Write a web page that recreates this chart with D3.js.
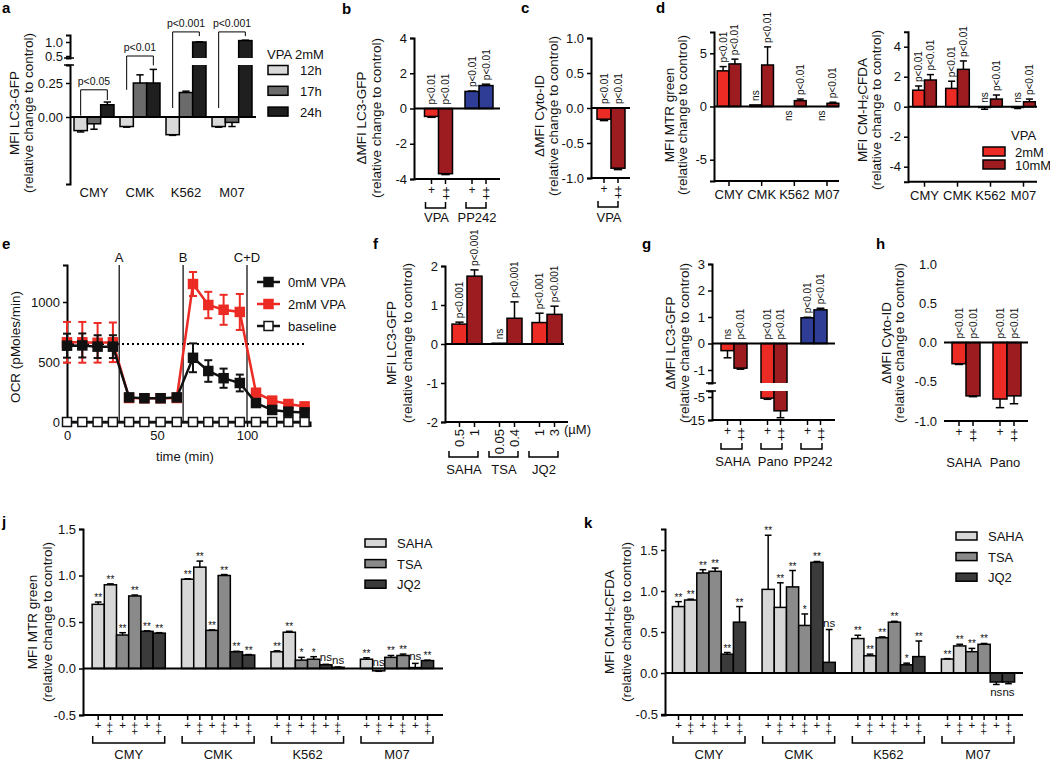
<!DOCTYPE html>
<html><head><meta charset="utf-8">
<script src="https://cdn.jsdelivr.net/npm/d3@7"></script>
<style>body{margin:0;background:#fff}</style>
</head><body>
<svg id="fig" width="1050" height="763"></svg>
<script>
// ================= DATA =================
// panel a
const aCategories = ["CMY","CMK","K562","M07"];
const aSeries = ["12h","17h","24h"];
const a12h = [-0.10, -0.07, -0.13, -0.07];
const a17h = [-0.05, 0.25, 0.18, -0.04];
const a24h = [0.09, 0.25, 1.00, 1.05];
const aErr12h = [0.01, 0.005, 0.005, 0.005];
const aErr17h = [0.04, 0.06, 0.01, 0.03];
const aErr24h = [0.02, 0.10, 0.01, 0.015];
const aPvalues = ["p<0.05","p<0.01","p<0.001","p<0.001"];
const aBracketLeft = [0.01, 0.20, 0.066, 0.066];
const aBracketTop = [0.20, 0.50, 1.36, 1.36];
const aBracketRight = [0.125, 0.38, 1.21, 1.21];
const aTicksLower = [0, 0.25];
const aTicksUpper = [0.5, 1.0];
const aLegendTitle = "VPA 2mM";
// panel b
const bGroups = ["VPA","PP242"];
const bValues = [[-0.45, -3.7], [0.97, 1.3]];
const bErr = [[0.05, 0.05], [0.02, 0.08]];
const bLabels = [["p<0.01","p<0.01"],["p<0.01","p<0.01"]];
const bTicks = [-4, -2, 0, 2, 4];
// panel c
const cGroups = ["VPA"];
const cValues = [[-0.16, -0.86]];
const cErr = [[0.02, 0.02]];
const cLabels = [["p<0.01","p<0.01"]];
const cTicks = [-1, -0.5, 0, 0.5, 1];
// panel d
const dCategories = ["CMY","CMK","K562","M07"];
const dSeries = ["2mM","10mM"];
const d1Values2mM = [3.35, 0.15, 0.0, 0.0];
const d1Err2mM = [0.4, 0, 0, 0];
const d1Values10mM = [4.0, 3.9, 0.55, 0.3];
const d1Err10mM = [0.45, 1.7, 0.15, 0.1];
const d1Labels2mM = ["p<0.01","ns","ns","ns"];
const d1Labels10mM = ["p<0.01","p<0.01","p<0.01","p<0.01"];
const d1Below2mM = [false, false, true, true];
const d1Ticks = [-5, 0, 5];
const d2Values2mM = [1.1, 1.22, -0.05, -0.05];
const d2Err2mM = [0.28, 0.48, 0.12, 0.07];
const d2Values10mM = [1.78, 2.49, 0.51, 0.33];
const d2Err10mM = [0.36, 0.56, 0.27, 0.18];
const d2Labels2mM = ["p<0.01","p<0.01","ns","ns"];
const d2Labels10mM = ["p<0.01","p<0.01","p<0.01","p<0.01"];
const d2Below2mM = [false, false, false, false];
const d2Ticks = [-4, -2, 0, 2, 4];
const dLegendTitle = "VPA";
// panel e
const eTime = [0, 8.5, 17, 25.5, 34.5, 43, 52, 61, 70, 78.5, 87, 96, 105, 114, 123, 132];
const e0mM = [636, 638, 628, 628, 205, 198, 198, 205, 535, 425, 365, 325, 158, 100, 86, 80];
const e0mMErr = [100, 100, 95, 95, 20, 15, 15, 20, 120, 90, 80, 70, 25, 15, 15, 15];
const e2mM = [664, 664, 660, 664, 200, 198, 198, 200, 1150, 975, 935, 917, 244, 178, 150, 130];
const e2mMErr = [170, 170, 165, 165, 15, 15, 15, 15, 100, 110, 125, 150, 20, 15, 15, 15];
const eBaseline = [0,0,0,0,0,0,0,0,0,0,0,0,0,0,0,0];
const eInjectionLabels = ["A","B","C+D"];
const eInjectionTimes = [29, 64.5, 100];
const eReference = 650;
const eYTicks = [0, 500, 1000];
const eXTicks = [0, 50, 100];
const eLegend = ["0mM VPA","2mM VPA","baseline"];
// panel f
const fGroups = ["SAHA","TSA","JQ2"];
const fDoses = [["0.5","1"],["0.05","0.4"],["1","3"]];
const fValues = [[0.51, 1.74], [0.02, 0.66], [0.55, 0.76]];
const fErr = [[0.05, 0.16], [0, 0.42], [0.24, 0.21]];
const fLabels = [["p<0.001","p<0.001"],["ns","p<0.001"],["p<0.001","p<0.001"]];
const fTicks = [-2, -1, 0, 1, 2];
// panel g
const gGroups = ["SAHA","Pano","PP242"];
const gValues = [[-0.27, -0.93], [-5.5, -11], [0.97, 1.27]];
const gErr = [[0.27, 0.04], [0.5, 3], [0.02, 0.06]];
const gLabels = [["ns","p<0.01"],["p<0.01","p<0.01"],["p<0.01","p<0.01"]];
const gTicksUpper = [-1, 0, 1, 2, 3];
const gTicksLower = [-15, -5];
// panel h
const hGroups = ["SAHA","Pano"];
const hValues = [[-0.27, -0.68], [-0.72, -0.68]];
const hErr = [[0.01, 0.01], [0.11, 0.1]];
const hLabels = [["p<0.01","p<0.01"],["p<0.01","p<0.01"]];
const hTicks = [-1, -0.5, 0, 0.5, 1];
// panel j
const jCategories = ["CMY","CMK","K562","M07"];
const jLegend = ["SAHA","TSA","JQ2"];
const jValues = [
  [0.69, 0.90, 0.36, 0.78, 0.40, 0.38],
  [0.96, 1.09, 0.41, 1.00, 0.18, 0.145],
  [0.18, 0.39, 0.09, 0.10, 0.04, 0.013],
  [0.10, -0.025, 0.12, 0.14, 0.01, 0.085]];
const jErr = [
  [0.025, 0.01, 0.025, 0.01, 0.005, 0.005],
  [0.005, 0.065, 0.005, 0.01, 0.005, 0.005],
  [0.01, 0.01, 0.03, 0.027, 0.005, 0.003],
  [0.015, 0.005, 0.02, 0.015, 0.045, 0.005]];
const jStars = [
  ["**","**","**","**","**","**"],
  ["**","**","**","**","**","**"],
  ["**","**","*","*","ns","ns"],
  ["**","ns","**","**","ns","**"]];
const jTicks = [-0.5, 0, 0.5, 1, 1.5];
// panel k
const kValues = [
  [0.81, 0.89, 1.22, 1.24, 0.23, 0.62],
  [1.02, 0.80, 1.05, 0.58, 1.35, 0.13],
  [0.42, 0.21, 0.43, 0.62, 0.10, 0.20],
  [0.17, 0.33, 0.26, 0.35, -0.11, -0.11]];
const kErr = [
  [0.06, 0.01, 0.04, 0.04, 0.02, 0.19],
  [0.66, 0.30, 0.20, 0.14, 0.01, 0.40],
  [0.04, 0.02, 0.01, 0.01, 0.02, 0.19],
  [0.005, 0.02, 0.04, 0.01, 0.03, 0.02]];
const kStars = [
  ["**","**","**","**","**","**"],
  ["**","**","**","*","**","ns"],
  ["**","**","**","**","*","**"],
  ["**","**","**","**","ns","ns"]];
const kStarsBelow = [
  [false,false,false,false,false,false],
  [false,false,false,false,false,false],
  [false,false,false,false,false,false],
  [false,false,false,false,true,true]];
const kTicks = [-0.5, 0, 0.5, 1, 1.5];
const relTitle = "(relative change to control)";

// ================= STYLE =================
const FONT = "'Liberation Sans', Arial, Helvetica, sans-serif";
const RED = "#ec2b24", DRED = "#9d1c20", BLUE = "#2f3d97";
const A_FILLS = ["#d9d9d9", "#6b6b6b", "#1f1f1f"];
const J_FILLS = ["#d7d7d7","#d7d7d7","#8a8a8a","#8a8a8a","#3b3b3b","#3b3b3b"];
const svg = d3.select("#fig");
const fmt0 = v => String(v), fmt1 = v => v.toFixed(1), fmt2 = v => v.toFixed(2);

// ================= HELPERS =================
function extScale(d0, d1, r0, r1, p0, p1) {
  const s = d3.scaleLinear().domain([d0, d1]).range([r0, r1]);
  return d3.scaleLinear().domain([s.invert(p0), s.invert(p1)]).range([p0, p1]);
}
function line(g, x1, y1, x2, y2, w = 2, dash = null, color = "#000") {
  const l = g.append("line").attr("x1", x1).attr("y1", y1).attr("x2", x2).attr("y2", y2)
    .attr("stroke", color).attr("stroke-width", w);
  if (dash) l.attr("stroke-dasharray", dash);
  return l;
}
function text(g, x, y, s, o = {}) {
  const t = g.append("text").attr("font-family", FONT).attr("font-size", o.size || 13)
    .attr("fill", o.fill || "#111").attr("text-anchor", o.anchor || "middle");
  if (o.rotate) {
    t.attr("transform", `translate(${x},${y}) rotate(-90)`).attr("dominant-baseline", "central");
  } else t.attr("x", x).attr("y", y);
  if (o.weight) t.attr("font-weight", o.weight);
  t.text(s);
  return t;
}
// one "+" per condition; a second "+" stacked directly below for the higher dose
function plus(g, xc, yc, double, size = 12, gap = 6.5) {
  if (!double) return text(g, xc, yc + 0.33 * size, "+", { size });
  return g.append("text").attr("font-family", FONT).attr("font-size", size).attr("fill", "#111")
    .attr("text-anchor", "start").attr("dominant-baseline", "central")
    .attr("letter-spacing", gap - 0.584 * size)
    .attr("transform", `translate(${xc},${yc - 0.292 * size}) rotate(90)`).text("++");
}
function rect(g, x, w, yA, yB, fill, sw = 1.5) {
  return g.append("rect").attr("x", x).attr("y", Math.min(yA, yB)).attr("width", w)
    .attr("height", Math.abs(yA - yB)).attr("fill", fill).attr("stroke", "#000").attr("stroke-width", sw);
}
function err(g, xc, yFrom, yTo, cap, w = 1.5, color = "#000") {
  line(g, xc, yFrom, xc, yTo, w, null, color);
  line(g, xc - cap / 2, yTo, xc + cap / 2, yTo, w, null, color);
}
function bracket(g, x0, x1, yTop, yBot, w = 1.5) {
  g.append("path").attr("d", `M${x0},${yTop}V${yBot}H${x1}V${yTop}`)
    .attr("fill", "none").attr("stroke", "#000").attr("stroke-width", w);
}
function leftAxis(g, scale, ticks, x, fmt, showLine = true, showTicks = true) {
  const ax = g.append("g").attr("transform", `translate(${x},0)`)
    .call(d3.axisLeft(scale).tickValues(ticks).tickFormat(fmt).tickSizeOuter(0).tickSize(4).tickPadding(3));
  ax.select(".domain").attr("stroke-width", 2).attr("stroke", showLine ? "#000" : "none");
  ax.selectAll(".tick line").attr("stroke-width", 1.5).attr("stroke", showTicks ? "#000" : "none");
  ax.selectAll("text").attr("font-size", 13).attr("font-family", FONT).attr("fill", "#111");
  return ax;
}
function yTitle(g, x1, x2, yc, l1, l2, sub) {
  if (sub) {
    const t = text(g, x1, yc, "", { rotate: true, size: 13.5 });
    t.append("tspan").text(sub[0]);
    t.append("tspan").text(sub[1]).attr("font-size", 9).attr("dy", 3);
    t.append("tspan").text(sub[2]).attr("dy", -3);
  } else text(g, x1, yc, l1, { rotate: true, size: 13.5 });
  text(g, x2, yc, l2, { rotate: true, size: 13.5 });
}
function letter(g, x, y, s) { text(g, x, y, s, { anchor: "start", weight: "bold", size: 15, fill: "#000" }); }
function pLabel(g, xc, yRef, s, below, size = 10) {
  if (below) text(g, xc, yRef + 4, s, { rotate: true, anchor: "end", size });
  else text(g, xc, yRef - 4, s, { rotate: true, anchor: "start", size });
}

// ================= PANEL a =================
(function () {
  const g = svg.append("g");
  const x = d3.scalePoint().domain(aCategories).range([94, 232]);
  const inner = d3.scaleBand().domain(aSeries).range([-20, 20]);
  const yLo = extScale(0, 0.25, 117, 83, 184, 65);
  const yHi = extScale(0.5, 1.0, 56, 42, 58, 35);
  const cut = yLo.domain()[1];
  const yB = v => (v <= cut ? yLo(v) : yHi(v));
  const vals = [a12h, a17h, a24h], errs = [aErr12h, aErr17h, aErr24h];
  const w = inner.bandwidth();
  aCategories.forEach((c, i) => {
    aSeries.forEach((s, j) => {
      const v = vals[j][i], e = errs[j][i];
      const x0 = x(c) + inner(s), xc = x0 + w / 2;
      rect(g, x0, w, yLo(0), yB(v), A_FILLS[j]);
      if (e > 0) err(g, xc, yB(v), yB(v + Math.sign(v) * e), w * 0.55);
    });
  });
  g.append("rect").attr("x", 60).attr("y", yHi.range()[0]).attr("width", 200)
    .attr("height", yLo.range()[1] - yHi.range()[0]).attr("fill", "#fff");
  line(g, 70, yLo(0), 256, yLo(0));
  leftAxis(g, yLo, aTicksLower, 70, fmt2);
  leftAxis(g, yHi, aTicksUpper, 70, fmt1);
  line(g, 64, yHi.range()[0], 74, yHi.range()[0], 1.5);
  line(g, 64, yLo.range()[1], 74, yLo.range()[1], 1.5);
  aCategories.forEach((c, i) => {
    const xl = x(c) + inner("12h") + w / 2, xr = x(c) + inner("24h") + w / 2;
    g.append("path").attr("d", `M${xl},${yB(aBracketLeft[i])}V${yB(aBracketTop[i])}H${xr}V${yB(aBracketRight[i])}`)
      .attr("fill", "none").attr("stroke", "#000").attr("stroke-width", 1);
    text(g, (xl + xr) / 2, yB(aBracketTop[i]) - 5, aPvalues[i], { size: 10.5 });
    text(g, x(c), 197, c);
  });
  text(g, 267, 59, aLegendTitle, { anchor: "start" });
  aSeries.forEach((s, j) => {
    const yy = 65.5 + j * 20.8;
    g.append("rect").attr("x", 268).attr("y", yy).attr("width", 20).attr("height", 9)
      .attr("fill", A_FILLS[j]).attr("stroke", "#000").attr("stroke-width", 1.5);
    text(g, 300, yy + 9.5, s, { anchor: "start" });
  });
  yTitle(g, 14, 28, 113, "MFI LC3-GFP", relTitle);
  letter(g, 2, 13, "a");
})();

// ============ generic small bar panel (b, c, h) ============
function smallPanel(o) {
  const g = svg.append("g");
  const x = d3.scalePoint().domain(o.groups).range(o.centers);
  if (o.groups.length === 1) x.range([o.centers[0], o.centers[0]]);
  const inner = d3.scaleBand().domain([0, 1]).range([-o.bw, o.bw]);
  const y = o.y, w = inner.bandwidth(), yBot = y.range()[0];
  o.groups.forEach((grp, i) => {
    [0, 1].forEach(j => {
      const v = o.values[i][j], e = o.errs[i][j];
      const x0 = x(grp) + inner(j), xc = x0 + w / 2;
      rect(g, x0, w, y(0), y(v), o.fills[i][j]);
      const yEnd = y(v + Math.sign(v) * e);
      if (e > 0) err(g, xc, y(v), yEnd, w * 0.6);
      pLabel(g, xc, Math.min(y(0), yEnd, y(v)), o.labels[i][j], false);
      line(g, xc, yBot, xc, yBot + 5, 1.5);
      plus(g, xc, yBot + 11, j === 1, 12);
    });
    if (o.brackets) bracket(g, x(grp) - 13, x(grp) + 7, yBot + 23, yBot + 29);
    text(g, x(grp) + o.labelDx, yBot + o.labelDy, grp);
  });
  line(g, o.axisX, y(0), o.xEnd, y(0));
  line(g, o.axisX, yBot, o.xEnd, yBot);
  leftAxis(g, y, o.ticks, o.axisX, o.fmt, o.axisLine !== false, o.axisLine !== false);
  yTitle(g, o.t1, o.t2, o.tc, o.title, relTitle);
  letter(g, o.lx, o.ly, o.letter);
  return g;
}

smallPanel({ groups: bGroups, centers: [438.5, 479], bw: 14, y: d3.scaleLinear().domain([-4, 4]).range([179, 38]),
  values: bValues, errs: bErr, labels: bLabels, fills: [[RED, DRED], [BLUE, BLUE]], ticks: bTicks, fmt: fmt0,
  axisX: 414, xEnd: 500, brackets: true, labelDx: -2, labelDy: 43, t1: 361, t2: 376, tc: 118,
  title: "ΔMFI LC3-GFP", lx: 342, ly: 14, letter: "b" });

smallPanel({ groups: cGroups, centers: [611], bw: 14, y: d3.scaleLinear().domain([-1, 1]).range([178, 38]),
  values: cValues, errs: cErr, labels: cLabels, fills: [[RED, DRED]], ticks: cTicks, fmt: fmt1,
  axisX: 591, xEnd: 630, brackets: true, labelDx: -2, labelDy: 44, t1: 539, t2: 553, tc: 116,
  title: "ΔMFI Cyto-ID", lx: 521, ly: 13, letter: "c" });

smallPanel({ groups: hGroups, centers: [966, 1007], bw: 14, y: d3.scaleLinear().domain([-1, 1]).range([421, 264]),
  values: hValues, errs: hErr, labels: hLabels, fills: [[RED, DRED], [RED, DRED]], ticks: hTicks, fmt: fmt1,
  axisX: 944, xEnd: 1028, brackets: false, labelDx: -2, labelDy: 46, axisLine: false, t1: 886, t2: 899, tc: 343,
  title: "ΔMFI Cyto-ID", lx: 876, ly: 249, letter: "h" });

// ================= PANEL d =================
function dPanel(o) {
  const g = svg.append("g");
  const x = d3.scalePoint().domain(dCategories).range(o.centers);
  const inner = d3.scaleBand().domain(dSeries).range([-11.8, 11.8]);
  const y = o.y, w = inner.bandwidth(), yBot = y.range()[0];
  const vals = [o.v2, o.v10], errs = [o.e2, o.e10], labs = [o.l2, o.l10], fills = [RED, DRED];
  dCategories.forEach((c, i) => {
    dSeries.forEach((s, j) => {
      const v = vals[j][i], e = errs[j][i];
      const x0 = x(c) + inner(s), xc = x0 + w / 2;
      rect(g, x0, w, y(0), y(v), fills[j]);
      const yEnd = y(v + Math.sign(v) * e);
      if (e > 0) err(g, xc, y(v), yEnd, w * 0.6);
      const below = j === 0 && o.below[i];
      pLabel(g, xc, below ? y(0) : Math.min(y(0), yEnd, y(v)), labs[j][i], below);
    });
    line(g, x(c), yBot, x(c), yBot + 5, 1.5);
    text(g, x(c), yBot + 18, c);
  });
  line(g, o.axisX, y(0), o.xEnd, y(0));
  line(g, o.axisX, yBot, o.xEnd, yBot);
  leftAxis(g, y, o.ticks, o.axisX, fmt0);
  return g;
}
(function () {
  const g1 = dPanel({ centers: [729, 827], y: d3.scaleLinear().domain([-7, 7]).range([181, 32]),
    v2: d1Values2mM, e2: d1Err2mM, v10: d1Values10mM, e10: d1Err10mM, l2: d1Labels2mM, l10: d1Labels10mM,
    below: d1Below2mM, ticks: d1Ticks, axisX: 714, xEnd: 839 });
  yTitle(g1, 669, 682, 115, "MFI MTR green", relTitle);
  letter(g1, 656, 13, "d");
  const g2 = dPanel({ centers: [924.5, 1023.5], y: d3.scaleLinear().domain([-5, 5]).range([181.7, 31.7]),
    v2: d2Values2mM, e2: d2Err2mM, v10: d2Values10mM, e10: d2Err10mM, l2: d2Labels2mM, l10: d2Labels10mM,
    below: d2Below2mM, ticks: d2Ticks, axisX: 908, xEnd: 1037 });
  yTitle(g2, 862, 876, 110, null, relTitle, ["MFI CM-H", "2", "CFDA"]);
  text(g2, 1011, 140, dLegendTitle, { anchor: "start" });
  [RED, DRED].forEach((f, j) => {
    const yy = 147 + j * 13;
    g2.append("rect").attr("x", 983).attr("y", yy).attr("width", 22).attr("height", 9)
      .attr("fill", f).attr("stroke", "#000").attr("stroke-width", 1.5);
    text(g2, 1015, yy + 9.5, dSeries[j], { anchor: "start" });
  });
})();

// ================= PANEL e =================
(function () {
  const g = svg.append("g");
  const x = extScale(0, 100, 67, 247, 67, 310);
  const y = extScale(0, 1000, 422, 302, 422, 265);
  eInjectionTimes.forEach((t, i) => {
    line(g, x(t), 265, x(t), y(0), 1.2);
    text(g, x(t), 262, eInjectionLabels[i]);
  });
  line(g, x(0), y(eReference), x(eTime[eTime.length - 1]), y(eReference), 2, "2,3");
  const path = d3.line().x((d, i) => x(eTime[i])).y(d => y(d));
  function series(vals, errs, color, fill) {
    g.append("path").attr("d", path(vals)).attr("fill", "none").attr("stroke", color).attr("stroke-width", 2.5);
    if (errs) vals.forEach((v, i) => {
      if (errs[i] > 0) {
        const xc = x(eTime[i]);
        line(g, xc, y(v - errs[i]), xc, y(v + errs[i]), 2, null, color);
        line(g, xc - 4, y(v + errs[i]), xc + 4, y(v + errs[i]), 2, null, color);
        line(g, xc - 4, y(v - errs[i]), xc + 4, y(v - errs[i]), 2, null, color);
      }
    });
    vals.forEach((v, i) => g.append("rect").attr("x", x(eTime[i]) - 4.5).attr("y", y(v) - 4.5)
      .attr("width", 9).attr("height", 9).attr("fill", fill).attr("stroke", color).attr("stroke-width", 1.5));
  }
  const ax = g.append("g").attr("transform", `translate(0,${y(0)})`)
    .call(d3.axisBottom(x).tickValues(eXTicks).tickFormat(fmt0).tickSizeOuter(0).tickSize(5).tickPadding(4));
  ax.select(".domain").attr("stroke-width", 2);
  ax.selectAll(".tick line").attr("stroke-width", 1.5);
  ax.selectAll("text").attr("font-size", 13).attr("font-family", FONT).attr("fill", "#111");
  leftAxis(g, y, eYTicks, 67, fmt0);
  series(eBaseline, null, "#111", "#fff");
  series(e2mM, e2mMErr, RED, RED);
  series(e0mM, e0mMErr, "#111", "#111");
  const lc = [["#111", "#111"], [RED, RED], ["#111", "#fff"]];
  eLegend.forEach((s, i) => {
    const yy = 282 + i * 22;
    line(g, 257, yy, 280, yy, 2.5, null, lc[i][0]);
    g.append("rect").attr("x", 264).attr("y", yy - 4.5).attr("width", 9).attr("height", 9)
      .attr("fill", lc[i][1]).attr("stroke", lc[i][0]).attr("stroke-width", 1.5);
    text(g, 288, yy + 4.5, s, { anchor: "start" });
  });
  text(g, 185, 461, "time (min)");
  text(g, 15, 347, "OCR (pMoles/min)", { rotate: true, size: 13.5 });
  letter(g, 2, 249, "e");
})();

// ================= PANEL f =================
(function () {
  const g = svg.append("g");
  const x = d3.scalePoint().domain(fGroups).range([467, 547]);
  const inner = d3.scaleBand().domain([0, 1]).range([-15, 15]);
  const y = d3.scaleLinear().domain([-2, 2]).range([422, 266]);
  const w = inner.bandwidth(), yBot = 422;
  fGroups.forEach((grp, i) => {
    [0, 1].forEach(j => {
      const v = fValues[i][j], e = fErr[i][j];
      const x0 = x(grp) + inner(j), xc = x0 + w / 2;
      rect(g, x0, w, y(0), y(v), j ? DRED : RED);
      const yEnd = y(v + e);
      if (e > 0) err(g, xc, y(v), yEnd, w * 0.55);
      pLabel(g, xc, Math.min(yEnd, y(v)), fLabels[i][j], false);
      line(g, xc, yBot, xc, yBot + 5, 1.5);
      text(g, xc, yBot + 7, fDoses[i][j], { rotate: true, anchor: "end" });
    });
    bracket(g, x(grp) - 18, x(grp) + 11, 451, 457);
    text(g, x(grp) - 3, 474, grp);
  });
  line(g, 445, y(0), 564, y(0));
  line(g, 445, yBot, 568, yBot);
  text(g, 564, 434, "(µM)", { anchor: "start" });
  leftAxis(g, y, fTicks, 445, fmt0);
  yTitle(g, 391, 407, 343, "MFI LC3-GFP", relTitle);
  letter(g, 373, 249, "f");
})();

// ================= PANEL g =================
(function () {
  const g = svg.append("g");
  const x = d3.scalePoint().domain(gGroups).range([734, 814]);
  const inner = d3.scaleBand().domain([0, 1]).range([-13, 13]);
  const yU = extScale(0, 1, 343.5, 317, 383, 264);
  const yL = extScale(-5, -15, 397, 420, 391, 420);
  const cut = yU.domain()[0];
  const yB = v => (v >= cut ? yU(v) : yL(v));
  const w = inner.bandwidth(), yBot = 420;
  const fills = [[RED, DRED], [RED, DRED], [BLUE, BLUE]];
  gGroups.forEach((grp, i) => [0, 1].forEach(j => {
    const x0 = x(grp) + inner(j);
    rect(g, x0, w, yU(0), yB(gValues[i][j]), fills[i][j]);
  }));
  g.append("rect").attr("x", 700).attr("y", 383).attr("width", 140).attr("height", 8).attr("fill", "#fff");
  gGroups.forEach((grp, i) => {
    [0, 1].forEach(j => {
      const v = gValues[i][j], e = gErr[i][j];
      const x0 = x(grp) + inner(j), xc = x0 + w / 2;
      const yEnd = yB(v + Math.sign(v) * e);
      if (e > 0) err(g, xc, yB(v), yEnd, w * 0.6);
      pLabel(g, xc, Math.min(yU(0), yEnd, yB(v)), gLabels[i][j], false);
      line(g, xc, yBot, xc, yBot + 5, 1.5);
      plus(g, xc, yBot + 11, j === 1, 12);
    });
    bracket(g, x(grp) - 13, x(grp) + 8, yBot + 23, yBot + 29);
    text(g, x(grp) - 1, 466, grp);
  });
  line(g, 712, yU(0), 835, yU(0));
  line(g, 712, yBot, 835, yBot);
  leftAxis(g, yU, gTicksUpper, 712, fmt0);
  leftAxis(g, yL, gTicksLower, 712, fmt0);
  line(g, 706, 383, 716, 383, 1.5);
  line(g, 706, 391, 716, 391, 1.5);
  yTitle(g, 670, 684, 343, "ΔMFI LC3-GFP", relTitle);
  letter(g, 642, 249, "g");
})();

// ================= PANELS j, k =================
function sixPanel(o) {
  const g = svg.append("g");
  const x = d3.scalePoint().domain(jCategories).range(o.centers);
  const inner = d3.scaleBand().domain(d3.range(6)).range([-36.6, 36.6]);
  const y = o.y, w = inner.bandwidth(), yBot = y.range()[0];
  jCategories.forEach((c, i) => {
    d3.range(6).forEach(j => {
      const v = o.values[i][j], e = o.errs[i][j];
      const x0 = x(c) + inner(j), xc = x0 + w / 2;
      rect(g, x0, w, y(0), y(v), J_FILLS[j]);
      const yEnd = y(v + Math.sign(v) * e);
      if (e > 0) err(g, xc, y(v), yEnd, w * 0.55);
      const s = o.stars[i][j];
      const sz = s === "ns" ? 11.5 : 10;
      if (o.below && o.below[i][j]) text(g, xc, Math.max(yEnd, y(v)) + 12, s, { size: sz });
      else text(g, xc, Math.min(y(0), yEnd, y(v)) - (s === "ns" ? 3 : 1), s, { size: sz });
      line(g, xc, yBot, xc, yBot + 5, 1.5);
      plus(g, xc, yBot + 10.2, j % 2 === 1, 11.5, 6.5);
    });
    bracket(g, x(c) - 36, x(c) + 36, yBot + 21, yBot + 28);
    text(g, x(c), yBot + 44, c);
  });
  line(g, o.axisX, y(0), o.xEnd, y(0));
  line(g, o.axisX, yBot, o.xEnd, yBot);
  leftAxis(g, y, o.ticks, o.axisX, fmt1);
  jLegend.forEach((s, k) => {
    const yy = o.legY + k * 20.6;
    g.append("rect").attr("x", o.legX).attr("y", yy).attr("width", 21).attr("height", 8)
      .attr("fill", J_FILLS[k * 2]).attr("stroke", "#000").attr("stroke-width", 1.5);
    text(g, o.legX + 32, yy + 9, s, { anchor: "start" });
  });
  return g;
}
(function () {
  const gj = sixPanel({ centers: [128.7, 397], y: extScale(0, 1.5, 668.5, 529, 715, 529),
    values: jValues, errs: jErr, stars: jStars, ticks: jTicks, axisX: 83, xEnd: 443, legX: 365, legY: 539 });
  yTitle(gj, 32, 47, 622, "MFI MTR green", relTitle);
  letter(gj, 2, 527, "j");
  const gk = sixPanel({ centers: [709, 978], y: extScale(0, 1.5, 673, 550, 715, 529),
    values: kValues, errs: kErr, stars: kStars, below: kStarsBelow, ticks: kTicks, axisX: 665, xEnd: 1023, legX: 956, legY: 532 });
  yTitle(gk, 609, 626, 622, null, relTitle, ["MFI CM-H", "2", "CFDA"]);
  letter(gk, 584, 528, "k");
})();
</script>
</body></html>
